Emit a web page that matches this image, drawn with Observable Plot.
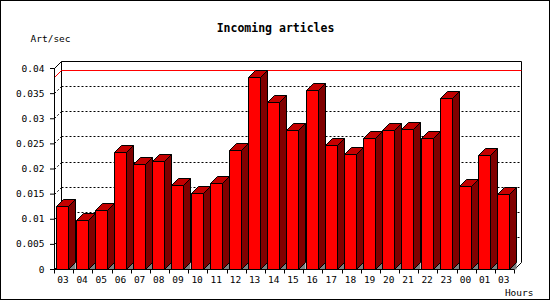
<!DOCTYPE html>
<html><head><meta charset="utf-8">
<script src="https://cdn.jsdelivr.net/npm/d3@7"></script>
<script src="https://cdn.jsdelivr.net/npm/@observablehq/plot@0.6"></script>
<style>body{margin:0;background:#fff} svg{display:block}</style>
</head><body><div id="chart"></div>
<script>
const title = "Incoming articles";
const yLabel = "Art/sec";
const xLabel = "Hours";
const hours = ["03","04","05","06","07","08","09","10","11","12","13","14","15","16","17","18","19","20","21","22","23","00","01","03"];
const rates = [0.0125,0.0097,0.0117,0.0232,0.0208,0.0214,0.0168,0.0152,0.0172,0.0236,0.0383,0.0332,0.0276,0.0357,0.0247,0.0228,0.0260,0.0276,0.0278,0.0260,0.0340,0.0166,0.0226,0.0150];
const yTicks = [0,0.005,0.01,0.015,0.02,0.025,0.03,0.035,0.04];

const DX = 7, DY = 7;
const FRONT_L = 0.13, FRONT_R = 0.75, LABEL_POS = 0.44;
const FONT = "DejaVu Sans Mono";
const table = hours.map((h, i) => ({i, hour: h, rate: rates[i]}));
const yMax = yTicks[yTicks.length - 1];
const maxRate = d3.max(rates);

function scene(index, scales, values, dim) {
  const {x, y} = scales;
  const s = v => Math.round(v) + 0.5;
  const g = d3.create("svg:g");
  const W = dim.width, H = dim.height;
  g.append("rect").attr("x", 0.5).attr("y", 0.5).attr("width", W - 1).attr("height", H - 1)
    .attr("fill", "none").attr("stroke", "#000");
  const x0 = s(x(0)), x1 = s(x(hours.length)), y0 = s(y(0)), yT = s(y(yMax));
  const line = (pts, stroke, dash) => {
    const p = g.append("polyline").attr("points", pts.map(q => q.join(",")).join(" "))
      .attr("fill", "none").attr("stroke", stroke);
    if (dash) p.attr("stroke-dasharray", dash);
    return p;
  };
  // grid lines on back wall
  for (const t of yTicks) {
    if (t === 0 || t === yMax) continue;
    const yy = s(y(t));
    line([[x0 + DX, yy - DY], [x1 + DX, yy - DY]], "#000", "2,2");
    line([[x0, yy], [x0 + DX, yy - DY]], "#000", "2,2");
  }
  // back frame
  line([[x0, yT], [x0 + DX, yT - DY], [x1 + DX, yT - DY], [x1 + DX, y0 - DY], [x1, y0]], "#000");
  line([[x0 + DX, yT - DY], [x0 + DX, y0 - DY], [x0, y0]], "#000");
  // max line
  const ym = s(y(maxRate));
  line([[x0, ym], [x0 + DX, ym - DY], [x1 + DX, ym - DY]], "#ff0000");
  // bars
  const poly = (pts, fill, stroke) => g.append("polygon")
    .attr("points", pts.map(q => q.join(",")).join(" "))
    .attr("fill", fill).attr("stroke", stroke || "none");
  table.forEach(d => {
    const xl = s(x(d.i + FRONT_L)), xr = s(x(d.i + FRONT_R)), yt = s(y(d.rate));
    poly([[xr, y0], [xr + DX, y0 - DY], [xr + DX, y0]], "#808080");
    poly([[xr, yt], [xr + DX, yt - DY], [xr + DX, y0 - DY], [xr, y0]], "#800000", "#000");
    poly([[xl, yt], [xr, yt], [xr + DX, yt - DY], [xl + DX, yt - DY]], "#c40000", "#000");
    poly([[xl, yt], [xr, yt], [xr, y0], [xl, y0]], "#ff0000", "#000");
  });
  // x ticks at category boundaries
  for (let i = 0; i <= hours.length; i++) {
    const xx = s(x(i));
    line([[xx, y0], [xx, y0 + 4]], "#000");
  }
  return g.node();
}

const chart = Plot.plot({
  width: 550, height: 300,
  marginLeft: 54, marginRight: 36, marginTop: 68, marginBottom: 31,
  style: {fontFamily: FONT, fontSize: "9.5px", background: "white", color: "black", overflow: "visible"},
  x: {domain: [0, hours.length], axis: null},
  y: {domain: [0, yMax], ticks: 8, tickFormat: d => String(+d.toFixed(3)), tickSize: 4, tickPadding: 6, label: null},
  marks: [
    scene,
    Plot.ruleX([0]),
    Plot.ruleY([0]),
    Plot.text(table, {x: d => d.i + LABEL_POS, y: () => 0, text: "hour", dy: 10, fontFamily: FONT, fontSize: 9.5}),
    Plot.text([title], {frameAnchor: "top", lineAnchor: "middle", dx: -9, dy: -40, fontWeight: "bold", fontSize: 11.5, fontFamily: FONT}),
    Plot.text([yLabel], {frameAnchor: "top-left", lineAnchor: "middle", textAnchor: "start", dx: -24, dy: -30, fontSize: 9.5, fontFamily: FONT}),
    Plot.text([xLabel], {frameAnchor: "bottom-right", lineAnchor: "middle", textAnchor: "end", dx: 19, dy: 23, fontSize: 9.5, fontFamily: FONT})
  ]
});
document.getElementById("chart").appendChild(chart);
</script>
</body></html>
